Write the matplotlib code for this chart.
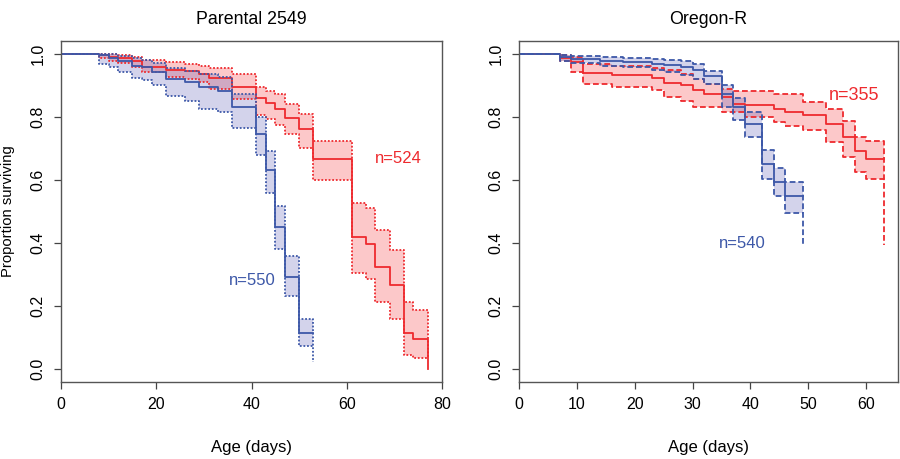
import matplotlib
matplotlib.use("Agg")
import matplotlib.pyplot as plt

plt.rcParams["font.family"] = ["Liberation Sans", "DejaVu Sans"]

RED = "#EE2A2E"
BLUE = "#3D58A8"
RED_FILL = "#F4262A"
BLUE_FILL = "#5050B0"

# ---------- Parental 2549 ----------
par_red_t = [0, 8, 10, 12, 15, 17, 22, 26, 29, 31, 36, 41, 43, 45, 47, 50, 53,
             61, 64, 66, 69, 72, 74, 77]
par_red_s = [1.0, 0.995, 0.99, 0.986, 0.975, 0.959, 0.948, 0.944, 0.936, 0.923,
             0.895, 0.86, 0.843, 0.825, 0.797, 0.76, 0.667, 0.419, 0.398, 0.324,
             0.266, 0.114, 0.095, 0.0]
par_red_hi = [1.0, 1.0, 0.998, 0.996, 0.99, 0.98, 0.972, 0.968, 0.962, 0.955,
              0.934, 0.895, 0.883, 0.871, 0.841, 0.81, 0.723, 0.527, 0.512, 0.44,
              0.377, 0.214, 0.187, 0.035]
par_red_lo = [1.0, 0.985, 0.978, 0.97, 0.958, 0.941, 0.927, 0.92, 0.91, 0.888,
              0.855, 0.804, 0.794, 0.773, 0.746, 0.70, 0.601, 0.305, 0.287, 0.214,
              0.161, 0.047, 0.035, 0.035]

par_blue_t = [0, 8, 10, 12, 15, 17, 19, 22, 26, 29, 33, 36, 41, 43, 45, 47, 50, 53]
par_blue_s = [1.0, 0.994, 0.986, 0.978, 0.962, 0.957, 0.941, 0.92, 0.909, 0.894,
              0.883, 0.83, 0.746, 0.63, 0.451, 0.293, 0.114, 0.114]
par_blue_hi = [1.0, 1.0, 0.998, 0.993, 0.985, 0.98, 0.97, 0.955, 0.945, 0.935,
               0.925, 0.873, 0.80, 0.693, 0.517, 0.36, 0.161, 0.074]
par_blue_lo = [1.0, 0.967, 0.959, 0.941, 0.923, 0.917, 0.899, 0.867, 0.849, 0.825,
               0.815, 0.765, 0.678, 0.558, 0.38, 0.232, 0.074, 0.024]

# ---------- Oregon-R ----------
ore_red_t = [0, 7, 9, 11, 16, 23, 25, 28, 30, 32, 35, 37, 39, 44, 46, 49, 53,
             56, 58, 60, 63]
ore_red_s = [1.0, 0.986, 0.973, 0.938, 0.931, 0.924, 0.906, 0.899, 0.885, 0.873,
             0.864, 0.841, 0.836, 0.825, 0.815, 0.804, 0.778, 0.735, 0.693, 0.667,
             0.667]
ore_red_hi = [1.0, 0.996, 0.99, 0.968, 0.962, 0.955, 0.948, 0.935, 0.92, 0.905,
              0.888, 0.883, 0.883, 0.873, 0.873, 0.846, 0.825, 0.785, 0.735, 0.723,
              0.604]
ore_red_lo = [1.0, 0.976, 0.941, 0.904, 0.894, 0.885, 0.862, 0.851, 0.83, 0.83,
              0.815, 0.815, 0.80, 0.783, 0.772, 0.757, 0.72, 0.672, 0.625, 0.604,
              0.393]

ore_blue_t = [0, 7, 9, 14, 18, 23, 25, 28, 30, 32, 35, 37, 39, 42, 44, 46, 49]
ore_blue_s = [1.0, 0.988, 0.983, 0.978, 0.973, 0.968, 0.965, 0.959, 0.949, 0.93,
              0.873, 0.83, 0.778, 0.651, 0.593, 0.548, 0.548]
ore_blue_hi = [1.0, 0.996, 0.993, 0.99, 0.987, 0.983, 0.981, 0.976, 0.968, 0.946,
               0.899, 0.86, 0.814, 0.696, 0.639, 0.593, 0.495]
ore_blue_lo = [1.0, 0.976, 0.97, 0.962, 0.957, 0.949, 0.941, 0.931, 0.92, 0.904,
               0.832, 0.79, 0.735, 0.604, 0.548, 0.495, 0.393]


def km(ax, t, s, hi, lo, col, fcol, ci_style):
    ax.fill_between(t, lo, hi, step="post", color=fcol, alpha=0.25, lw=0)
    ax.step(t, hi, where="post", color=col, lw=1.3, ls=ci_style)
    ax.step(t, lo, where="post", color=col, lw=1.3, ls=ci_style)
    ax.step(t, s, where="post", color=col, lw=1.3)


def r_style(ax, xmax, xticks):
    ax.set_xlim(0, xmax)
    ax.set_ylim(-0.04, 1.04)
    ax.set_xticks(xticks)
    ax.set_yticks([0, 0.2, 0.4, 0.6, 0.8, 1.0])
    ax.set_yticklabels(["0.0", "0.2", "0.4", "0.6", "0.8", "1.0"],
                       rotation=90, va="center")
    ax.tick_params(direction="out", length=5, width=0.9, colors="#444444",
                   labelcolor="black", labelsize=11.5, pad=6)
    for sp in ax.spines.values():
        sp.set_color("#555555")
        sp.set_linewidth(1.0)
    ax.set_xlabel("Age (days)", fontsize=12, labelpad=20)


fig = plt.figure(figsize=(9, 4.59), dpi=100)
ax1 = fig.add_axes([0.0678, 0.1678, 0.4233, 0.743])
ax2 = fig.add_axes([0.5767, 0.1678, 0.4211, 0.743])

dotted = (0, (1, 1))
dashed = (0, (3.2, 1.6))

km(ax1, par_red_t, par_red_s, par_red_hi, par_red_lo, RED, RED_FILL, dotted)
km(ax1, par_blue_t, par_blue_s, par_blue_hi, par_blue_lo, BLUE, BLUE_FILL, dotted)
r_style(ax1, 80, [0, 20, 40, 60, 80])
ax1.set_title("Parental 2549", fontsize=12.8, pad=12)
ax1.set_ylabel("Proportion surviving", fontsize=10.7, va="center")
ax1.yaxis.set_label_coords(-0.139, 0.5)
ax1.text(70.8, 0.668, "n=524", color=RED, fontsize=12, ha="center", va="center")
ax1.text(40.1, 0.282, "n=550", color=BLUE, fontsize=12, ha="center", va="center")

km(ax2, ore_red_t, ore_red_s, ore_red_hi, ore_red_lo, RED, RED_FILL, dashed)
km(ax2, ore_blue_t, ore_blue_s, ore_blue_hi, ore_blue_lo, BLUE, BLUE_FILL, dashed)
r_style(ax2, 65.5, [0, 10, 20, 30, 40, 50, 60])
ax2.set_title("Oregon-R", fontsize=12.8, pad=12)
ax2.text(57.9, 0.868, "n=355", color=RED, fontsize=13, ha="center", va="center")
ax2.text(38.6, 0.40, "n=540", color=BLUE, fontsize=12, ha="center", va="center")

fig.savefig("out.png", dpi=100)
